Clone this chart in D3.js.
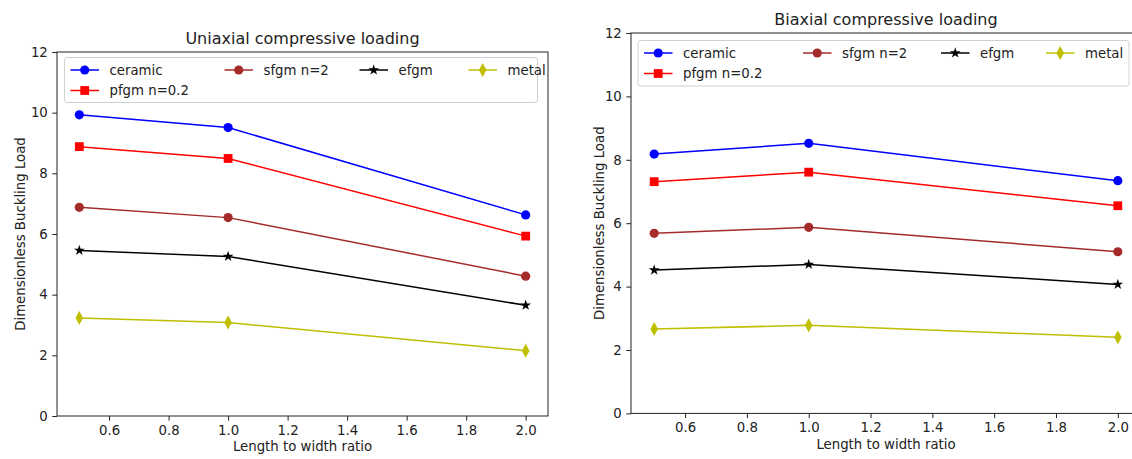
<!DOCTYPE html>
<html><head><meta charset="utf-8">
<script src="https://cdn.jsdelivr.net/npm/d3@7"></script>
<style>body{margin:0;background:#fff} svg{display:block;font-family:"DejaVu Sans",sans-serif}</style>
</head><body><svg id="c" width="1132" height="459"></svg>
<script>
// ---- data ----
const ratios = [0.5, 1.0, 2.0];
const seriesNames = ["ceramic", "pfgm n=0.2", "sfgm n=2", "efgm", "metal"];
const seriesColors = ["#0000ff", "#ff0000", "#a52a2a", "#000000", "#bfbf00"];
const seriesMarkers = ["circle", "square", "circle", "star", "diamond"];
const xTicks = [0.6, 0.8, 1.0, 1.2, 1.4, 1.6, 1.8, 2.0];
const yTicks = [0, 2, 4, 6, 8, 10, 12];

const uniCeramic = [9.93, 9.51, 6.63];
const uniPfgm    = [8.88, 8.49, 5.93];
const uniSfgm    = [6.88, 6.54, 4.61];
const uniEfgm    = [5.46, 5.26, 3.65];
const uniMetal   = [3.23, 3.08, 2.15];

const biCeramic = [8.18, 8.52, 7.34];
const biPfgm    = [7.31, 7.61, 6.55];
const biSfgm    = [5.68, 5.87, 5.10];
const biEfgm    = [4.52, 4.70, 4.07];
const biMetal   = [2.66, 2.78, 2.40];

const panels = [
  { title: "Uniaxial compressive loading", values: [uniCeramic, uniPfgm, uniSfgm, uniEfgm, uniMetal],
    box: {x0: 57, x1: 548, y0: 52, y1: 416}, titleY: 44, xlabY: 451, ylabX: 20,
    legend: {x: 64.5, y: 57.5, w: 473, h: 45, cols: [0, 154, 289, 398]} },
  { title: "Biaxial compressive loading", values: [biCeramic, biPfgm, biSfgm, biEfgm, biMetal],
    box: {x0: 631, x1: 1141, y0: 33, y1: 413.4}, titleY: 25, xlabY: 449, ylabX: 599,
    legend: {x: 638, y: 40.5, w: 491, h: 45.5, cols: [0, 159, 297, 402]} }
];

const svg = d3.select("#c");
const fs = 13.3;

function marker(g, type, color, cx, cy) {
  if (type === "circle") {
    g.append("circle").attr("cx", cx).attr("cy", cy).attr("r", 4.6).attr("fill", color);
  } else if (type === "square") {
    const s = 8.8;
    g.append("rect").attr("x", cx - s / 2).attr("y", cy - s / 2).attr("width", s).attr("height", s).attr("fill", color);
  } else if (type === "star") {
    g.append("path").attr("d", d3.symbol(d3.symbolStar, 36)())
      .attr("transform", `translate(${cx},${cy})`).attr("fill", color);
  } else if (type === "diamond") {
    const w = 3.8, h = 7.0;
    g.append("path").attr("d", `M${cx},${cy - h}L${cx + w},${cy}L${cx},${cy + h}L${cx - w},${cy}Z`).attr("fill", color);
  }
}

panels.forEach(p => {
  const b = p.box;
  const x = d3.scaleLinear().domain([0.425, 2.075]).range([b.x0, b.x1]);
  const y = d3.scaleLinear().domain([0, 12]).range([b.y1, b.y0]);
  const g = svg.append("g");

  const xa = g.append("g").attr("transform", `translate(0,${b.y1})`)
    .call(d3.axisBottom(x).tickValues(xTicks).tickFormat(d3.format(".1f")).tickSize(4.7).tickPadding(4.5));
  const ya = g.append("g").attr("transform", `translate(${b.x0},0)`)
    .call(d3.axisLeft(y).tickValues(yTicks).tickFormat(d3.format("d")).tickSize(4.7).tickPadding(4.5));
  [xa, ya].forEach(a => {
    a.select(".domain").remove();
    a.selectAll("line").attr("stroke", "#222").attr("stroke-width", 1);
    a.selectAll("text").attr("font-size", fs).attr("fill", "#222").attr("font-family", "DejaVu Sans");
  });

  const line = d3.line().x((d, i) => x(ratios[i])).y(d => y(d));
  p.values.forEach((vals, si) => {
    g.append("path").datum(vals).attr("d", line).attr("fill", "none")
      .attr("stroke", seriesColors[si]).attr("stroke-width", 1.5);
    vals.forEach((v, i) => marker(g, seriesMarkers[si], seriesColors[si], x(ratios[i]), y(v)));
  });

  g.append("rect").attr("x", b.x0).attr("y", b.y0).attr("width", b.x1 - b.x0).attr("height", b.y1 - b.y0)
    .attr("fill", "none").attr("stroke", "#222").attr("stroke-width", 1);

  const L = p.legend;
  const lg = g.append("g");
  lg.append("rect").attr("x", L.x).attr("y", L.y).attr("width", L.w).attr("height", L.h)
    .attr("rx", 2.5).attr("fill", "#fff").attr("fill-opacity", 0.8).attr("stroke", "#d0d0d0").attr("stroke-width", 1);
  const order = [0, 2, 3, 4, 1];
  order.forEach((si, k) => {
    const col = k < 4 ? k : 0;
    const row = k < 4 ? 0 : 1;
    const lx = L.x + 6 + L.cols[col];
    const ly = L.y + 12.5 + row * 20.5;
    lg.append("line").attr("x1", lx).attr("x2", lx + 28.5).attr("y1", ly).attr("y2", ly)
      .attr("stroke", seriesColors[si]).attr("stroke-width", 1.5);
    marker(lg, seriesMarkers[si], seriesColors[si], lx + 14.2, ly);
    lg.append("text").attr("x", lx + 39).attr("y", ly).attr("dy", "0.35em")
      .attr("font-size", fs).attr("fill", "#222").text(seriesNames[si]);
  });

  const cx = (b.x0 + b.x1) / 2;
  g.append("text").attr("x", cx).attr("y", p.titleY).attr("text-anchor", "middle")
    .attr("font-size", 16).attr("fill", "#222").text(p.title);
  g.append("text").attr("x", cx).attr("y", p.xlabY).attr("text-anchor", "middle")
    .attr("font-size", fs).attr("fill", "#222").text("Length to width ratio");
  g.append("text").attr("transform", `translate(${p.ylabX},${(b.y0 + b.y1) / 2}) rotate(-90)`)
    .attr("text-anchor", "middle").attr("dy", "0.35em")
    .attr("font-size", fs).attr("fill", "#222").text("Dimensionless Buckling Load");
});
</script>
</body></html>
